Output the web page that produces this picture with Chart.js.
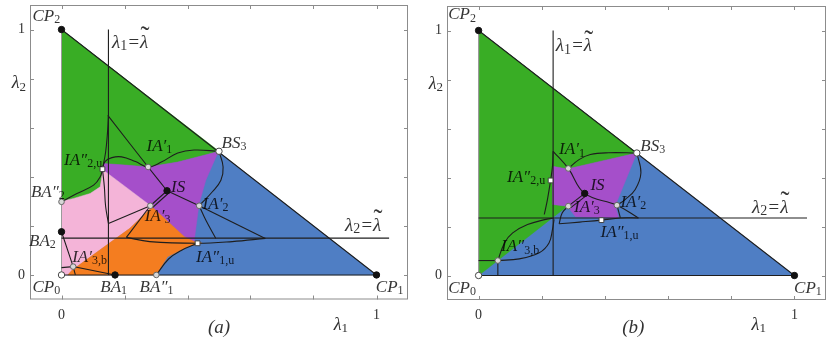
<!DOCTYPE html>
<html>
<head>
<meta charset="utf-8">
<script src="https://cdn.jsdelivr.net/npm/chart.js@4"></script>
<style>
  html, body { margin: 0; padding: 0; background: #fff; overflow: hidden; width: 827px; height: 340px; }
  canvas { position: absolute; top: 0; }
  #chartA { left: 0; }
  #chartB { left: 413px; }
</style>
</head>
<body>
<canvas id="chartA" width="413" height="340"></canvas>
<canvas id="chartB" width="418" height="340"></canvas>
<script>
// axis ticks (both panels share them)
const tickValues = [0, 0.2, 0.4, 0.6, 0.8, 1];
const tickLabels = ['0', '', '', '', '', '1'];

// ---- panel (a) ----
const aTriangle = [[0, 0], [1, 0], [0, 1]];
const aGreen = [[0, 1], [0.5, 0.504], [0.453, 0.488], [0.369, 0.46], [0.275, 0.44], [0.212, 0.447],
  [0.133, 0.454], [0.13, 0.43], [0.128, 0.4], [0.123, 0.359], [0.091, 0.332], [0.039, 0.312], [0, 0.3]];
const aPurple = [[0.13, 0.43], [0.133, 0.454], [0.212, 0.447], [0.275, 0.44], [0.369, 0.46], [0.453, 0.488],
  [0.5, 0.504], [0.49, 0.48], [0.458, 0.386], [0.437, 0.291], [0.427, 0.196], [0.421, 0.136], [0.39, 0.156],
  [0.285, 0.28]];
const aPink = [[0, 0.3], [0.039, 0.312], [0.091, 0.332], [0.123, 0.359], [0.128, 0.4], [0.13, 0.43],
  [0.285, 0.28], [0.282, 0.27], [0.217, 0.19], [0.149, 0.127], [0.034, 0.02], [0.02, 0], [0, 0]];
const aOrange = [[0.02, 0], [0.034, 0.02], [0.149, 0.127], [0.217, 0.19], [0.282, 0.27], [0.285, 0.28],
  [0.39, 0.156], [0.421, 0.136], [0.445, 0.13], [0.4, 0.115], [0.337, 0.074], [0.315, 0.03], [0.303, 0]];

const aEdges = [[0, 1], [0, 0]];
const aCurves = [
  [[0, 0], [1, 0], [0, 1]],
  [[0.149, 0], [0.149, 1]],
  [[0, 0.15], [1.04, 0.15]],
  [[0.147, 0.65], [0.275, 0.44], [0.335, 0.343]],
  [[0.13, 0.431], [0.138, 0.462], [0.16, 0.478], [0.191, 0.481], [0.235, 0.462], [0.275, 0.44],
    [0.317, 0.46], [0.369, 0.497], [0.421, 0.509], [0.5, 0.504]],
  [[0.5, 0.504], [0.513, 0.44], [0.506, 0.386], [0.479, 0.339], [0.437, 0.282]],
  [[0.335, 0.343], [0.437, 0.282]],
  [[0.437, 0.282], [0.647, 0.149]],
  [[0.437, 0.282], [0.458, 0.224], [0.49, 0.149]],
  [[0.206, 0.153], [0.28, 0.136], [0.432, 0.129], [0.542, 0.136], [0.647, 0.149]],
  [[0.282, 0.282], [0.206, 0.153]],
  [[0.282, 0.282], [0.149, 0.21]],
  [[0.13, 0.431], [0.136, 0.36], [0.14, 0.28], [0.149, 0.21]],
  [[0.335, 0.343], [0.282, 0.282]],
  [[0.343, 0.337], [0.29, 0.276]],
  [[0, 0.298], [0.049, 0.332], [0.102, 0.366], [0.123, 0.4], [0.13, 0.431]],
  [[0.13, 0.431], [0.14, 0.5], [0.146, 0.58], [0.149, 0.65]],
  [[0, 0.176], [0.037, 0.034], [0.17, 0]],
  [[0, 0.03], [0.037, 0.034]],
  [[0.037, 0.034], [0.044, 0]],
  [[0.432, 0.129], [0.38, 0.1], [0.34, 0.065], [0.301, 0]]
];
const aBlackDots = [[0, 1], [0, 0.176], [0.335, 0.343], [0.17, 0], [1, 0]];
const aWhiteDots = [[0, 0], [0.5, 0.504]];
const aSquares = [[0.13, 0.431], [0.432, 0.129]];
const aGreyDots = [[0, 0.298], [0.301, 0], [0.275, 0.44], [0.437, 0.282], [0.282, 0.282], [0.037, 0.034]];
const aLabels = [
  ['CP_{2}', -0.092, 1.034], ['λ_{1}=~{λ}', 0.16, 0.925], ['IA″_{2,u}', 0.008, 0.45],
  ['IA′_{1}', 0.27, 0.505], ['BS_{3}', 0.508, 0.516], ['BA″_{2}', -0.097, 0.317],
  ['IS', 0.348, 0.34], ['IA′_{2}', 0.448, 0.268], ['IA′_{3}', 0.264, 0.22],
  ['λ_{2}=~{λ}', 0.9, 0.18], ['BA_{2}', -0.103, 0.118], ['IA′_{3,b}', 0.034, 0.053],
  ['IA″_{1,u}', 0.427, 0.053], ['CP_{0}', -0.092, -0.069], ['BA_{1}', 0.123, -0.069],
  ['BA″_{1}', 0.248, -0.069], ['CP_{1}', 0.998, -0.069]
];

// ---- panel (b) ----
const bTriangle = [[0, 0], [1, 0], [0, 1]];
const bGreen = [[0, 1], [0.501, 0.5], [0.281, 0.435], [0.234, 0.446], [0.234, 0.29], [0.281, 0.283], [0, 0]];
const bPurple = [[0.234, 0.446], [0.281, 0.435], [0.501, 0.5], [0.433, 0.286], [0.443, 0.235],
  [0.307, 0.24], [0.281, 0.283], [0.234, 0.29]];

const bEdges = [[0, 1], [0, 0]];
const bCurves = [
  [[0, 0], [1, 0], [0, 1]],
  [[0.236, 0], [0.236, 1]],
  [[0, 0.235], [1.04, 0.235]],
  [[0.236, 0.507], [0.284, 0.437], [0.336, 0.335], [0.438, 0.287], [0.506, 0.235]],
  [[0.438, 0.287], [0.449, 0.235]],
  [[0.501, 0.5], [0.514, 0.419], [0.496, 0.351], [0.464, 0.31], [0.438, 0.287]],
  [[0.284, 0.437], [0.318, 0.473], [0.354, 0.494], [0.412, 0.501], [0.501, 0.5]],
  [[0.208, 0.249], [0.218, 0.31], [0.228, 0.388], [0.234, 0.446], [0.236, 0.507]],
  [[0.336, 0.335], [0.284, 0.283]],
  [[0.344, 0.329], [0.292, 0.277]],
  [[0.284, 0.283], [0.265, 0.256], [0.255, 0.211]],
  [[0.255, 0.211], [0.32, 0.218], [0.389, 0.226], [0.449, 0.235], [0.506, 0.235]],
  [[0.061, 0.061], [0.082, 0.133], [0.108, 0.174], [0.155, 0.208], [0.213, 0.229], [0.239, 0.235]],
  [[0.061, 0.061], [0.129, 0.068], [0.192, 0.093], [0.223, 0.133], [0.234, 0.188], [0.239, 0.229]],
  [[0, 0.061], [0.061, 0.061]],
  [[0.061, 0], [0.061, 0.061]]
];
const bBlackDots = [[0, 1], [0.336, 0.335], [1, 0]];
const bWhiteDots = [[0, 0], [0.501, 0.5]];
const bSquares = [[0.228, 0.388], [0.389, 0.226]];
const bGreyDots = [[0.284, 0.437], [0.438, 0.287], [0.284, 0.283], [0.061, 0.061]];
const bLabels = [
  ['CP_{2}', -0.096, 1.045], ['λ_{1}=~{λ}', 0.244, 0.915], ['IA′_{1}', 0.255, 0.494],
  ['BS_{3}', 0.512, 0.51], ['IA″_{2,u}', 0.09, 0.38], ['IS', 0.354, 0.347],
  ['IA′_{3}', 0.302, 0.261], ['IA′_{2}', 0.449, 0.278], ['λ_{2}=~{λ}', 0.866, 0.255],
  ['IA″_{1,u}', 0.386, 0.159], ['IA″_{3,b}', 0.071, 0.098], ['CP_{0}', -0.096, -0.07],
  ['CP_{1}', 0.999, -0.07]
];

const colors = { green: '#39ad25', blue: '#4f7ec4', purple: '#a54fca', pink: '#f4b4d8', orange: '#f47d20' };

const toXY = pts => pts.map(([x, y]) => ({ x, y }));

// text with _{subscript} and ~{tilde over} parts
function drawRich(ctx, str, px, py, size, align) {
  const big = str.indexOf('~{') >= 0 ? size + 2 : size;
  const parts = str.split(/(_\{[^}]*\}|~\{[^}]*\})/).filter(p => p !== '');
  const fMain = `italic ${big}px "Liberation Serif", "DejaVu Serif", serif`;
  const fSub = `${Math.round(big * 0.72)}px "Liberation Serif", "DejaVu Serif", serif`;
  const segs = parts.map(p => {
    if (p.startsWith('_{')) return { t: p.slice(2, -1), f: fSub, dy: big * 0.12, tilde: false };
    if (p.startsWith('~{')) return { t: p.slice(2, -1), f: fMain, dy: 0, tilde: true };
    return { t: p, f: fMain, dy: 0, tilde: false };
  });
  let w = 0;
  segs.forEach(s => { ctx.font = s.f; s.w = ctx.measureText(s.t).width; w += s.w; });
  let cx = align === 'right' ? px - w : align === 'center' ? px - w / 2 : px;
  ctx.textAlign = 'left';
  ctx.textBaseline = 'alphabetic';
  segs.forEach(s => {
    ctx.font = s.f;
    ctx.fillText(s.t, cx, py + s.dy);
    if (s.tilde) {
      ctx.save();
      ctx.font = `${Math.round(big * 1.4)}px "Liberation Serif", serif`;
      ctx.textAlign = 'center';
      ctx.fillText('\u02DC', cx + s.w * 0.6, py - big * 0.14);
      ctx.restore();
    }
    cx += s.w;
  });
}

const framePlugin = {
  id: 'frameText',
  afterDraw(chart, args, opts) {
    const { ctx, chartArea: a, scales: { x, y } } = chart;
    ctx.save();
    ctx.strokeStyle = '#8c8c8c';
    ctx.lineWidth = 1;
    ctx.strokeRect(a.left + 0.5, a.top + 0.5, a.right - a.left - 1, a.bottom - a.top - 1);
    ctx.beginPath();
    tickValues.forEach(v => {
      const px = Math.round(x.getPixelForValue(v)) + 0.5;
      const py = Math.round(y.getPixelForValue(v)) + 0.5;
      ctx.moveTo(px, a.top); ctx.lineTo(px, a.top + 4);
      ctx.moveTo(px, a.bottom); ctx.lineTo(px, a.bottom - 4);
      ctx.moveTo(a.left, py); ctx.lineTo(a.left + 4, py);
      ctx.moveTo(a.right, py); ctx.lineTo(a.right - 4, py);
    });
    ctx.stroke();

    // tick labels
    ctx.fillStyle = '#333';
    ctx.font = '14px "Liberation Serif", serif';
    tickValues.forEach((v, i) => {
      if (!tickLabels[i]) return;
      ctx.textAlign = 'center';
      ctx.textBaseline = 'alphabetic';
      ctx.fillText(tickLabels[i], x.getPixelForValue(v), a.bottom + 19);
      ctx.textAlign = 'right';
      ctx.textBaseline = 'middle';
      ctx.fillText(tickLabels[i], a.left - 5, y.getPixelForValue(v));
    });
    drawRich(ctx, 'λ_{1}', x.getPixelForValue(0.887), a.bottom + 30, 18, 'center');
    drawRich(ctx, 'λ_{2}', a.left - 4, y.getPixelForValue(0.76), 18, 'right');
    drawRich(ctx, opts.caption, x.getPixelForValue(opts.captionX), a.bottom + 33, 19, 'center');

    // point annotations
    ctx.fillStyle = 'rgba(0,0,0,0.8)';
    opts.labels.forEach(([t, vx, vy]) => drawRich(ctx, t, x.getPixelForValue(vx), y.getPixelForValue(vy), 17, 'left'));
    ctx.restore();
  }
};

function buildChart(id, regions, edges, curves, black, white, squares, grey, labels, caption, captionX, pad) {
  const datasets = [];
  regions.forEach(([pts, color], i) => datasets.push({
    data: toXY(pts.concat([pts[0]])), showLine: true, fill: 'shape',
    backgroundColor: color, borderColor: color, borderWidth: 0.5,
    pointRadius: 0, tension: 0, order: 100 - i
  }));
  datasets.push({
    data: toXY(edges), showLine: true, fill: false, borderColor: '#9a9a9a', borderWidth: 1,
    pointRadius: 0, order: 11
  });
  curves.forEach(pts => datasets.push({
    data: toXY(pts), showLine: true, fill: false, borderColor: '#1e1e1e', borderWidth: 1.1,
    pointRadius: 0, tension: pts.length > 3 ? 0.4 : (pts.length === 3 && pts[0][1] !== 0 && pts[2][1] !== 0 ? 0.4 : 0), order: 10
  }));
  const marks = [
    [black, 'circle', 3.2, '#111', '#111'],
    [white, 'circle', 3.2, '#fff', '#444'],
    [squares, 'rect', 3.4, '#fff', '#444'],
    [grey, 'circle', 2.8, '#d8d8d8', '#666']
  ];
  marks.forEach(([pts, style, r, bg, bd]) => datasets.push({
    data: toXY(pts), showLine: false, pointStyle: style, pointRadius: r,
    backgroundColor: bg, borderColor: bd, borderWidth: 1, order: 0
  }));
  return new Chart(document.getElementById(id), {
    type: 'scatter',
    data: { datasets },
    options: {
      responsive: false,
      animation: false,
      layout: { padding: pad },
      scales: {
        x: { type: 'linear', min: -0.1, max: 1.1, display: false },
        y: { type: 'linear', min: -0.1, max: 1.1, display: false }
      },
      plugins: {
        legend: { display: false },
        tooltip: { enabled: false },
        frameText: { labels, caption, captionX }
      }
    },
    plugins: [framePlugin]
  });
}

buildChart('chartA',
  [[aTriangle, colors.blue], [aGreen, colors.green], [aPurple, colors.purple], [aPink, colors.pink], [aOrange, colors.orange]],
  aEdges, aCurves, aBlackDots, aWhiteDots, aSquares, aGreyDots, aLabels, '(a)', 0.5,
  { left: 30, right: 2, top: 4, bottom: 40.5 });

buildChart('chartB',
  [[bTriangle, colors.blue], [bGreen, colors.green], [bPurple, colors.purple]],
  bEdges, bCurves, bBlackDots, bWhiteDots, bSquares, bGreyDots, bLabels, '(b)', 0.49,
  { left: 34, right: 2, top: 6, bottom: 40 });
</script>
</body>
</html>
